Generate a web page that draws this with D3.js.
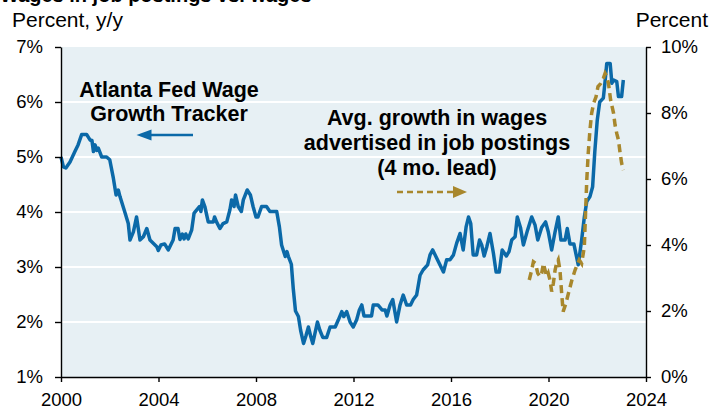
<!DOCTYPE html>
<html>
<head>
<meta charset="utf-8">
<script src="https://cdn.jsdelivr.net/npm/d3@7"></script>
<style>
  html, body { margin: 0; padding: 0; background: #fff; }
  svg { display: block; font-family: "Liberation Sans", Arial, sans-serif; }
</style>
</head>
<body>
<div id="chart"></div>
<script>
// Atlanta Fed Wage Growth Tracker, percent y/y (left axis) - [year, value]
const wageTracker = [
  [2000.00, 5.00], [2000.10, 4.82], [2000.20, 4.80], [2000.37, 4.91], [2000.57, 5.10],
  [2000.70, 5.22], [2000.85, 5.41], [2001.05, 5.41], [2001.19, 5.31], [2001.27, 5.30],
  [2001.33, 5.10], [2001.40, 5.22], [2001.47, 5.12], [2001.53, 5.16], [2001.67, 5.00],
  [2001.87, 5.00], [2002.00, 4.95], [2002.15, 4.61], [2002.26, 4.31], [2002.35, 4.40],
  [2002.42, 4.28], [2002.63, 3.98], [2002.76, 3.79], [2002.83, 3.49], [2002.97, 3.64],
  [2003.10, 3.91], [2003.24, 3.49], [2003.38, 3.55], [2003.52, 3.70], [2003.65, 3.49],
  [2003.93, 3.37], [2003.99, 3.30], [2004.10, 3.40], [2004.25, 3.42], [2004.40, 3.31],
  [2004.60, 3.49], [2004.68, 3.70], [2004.80, 3.70], [2004.88, 3.50], [2004.98, 3.60],
  [2005.05, 3.51], [2005.12, 3.60], [2005.22, 3.51], [2005.36, 3.67], [2005.46, 3.98],
  [2005.57, 4.04], [2005.68, 4.10], [2005.74, 4.01], [2005.80, 4.22], [2005.90, 4.10],
  [2006.04, 3.82], [2006.25, 3.82], [2006.30, 3.91], [2006.38, 3.82], [2006.52, 3.70],
  [2006.65, 3.79], [2006.80, 3.82], [2006.93, 4.04], [2007.00, 4.22], [2007.10, 4.10],
  [2007.16, 4.31], [2007.27, 4.10], [2007.40, 4.01], [2007.48, 4.22], [2007.64, 4.40],
  [2007.77, 4.31], [2007.88, 4.10], [2008.00, 3.91], [2008.08, 3.91], [2008.23, 4.10],
  [2008.43, 4.10], [2008.57, 4.01], [2008.85, 4.01], [2008.96, 3.73], [2009.05, 3.40],
  [2009.20, 3.19], [2009.27, 3.28], [2009.33, 3.19], [2009.45, 3.05], [2009.53, 2.60],
  [2009.62, 2.20], [2009.74, 2.10], [2009.83, 1.85], [2009.95, 1.61], [2010.05, 1.75],
  [2010.15, 1.91], [2010.25, 1.73], [2010.33, 1.61], [2010.52, 2.00], [2010.62, 1.85],
  [2010.74, 1.72], [2010.90, 1.72], [2011.04, 1.91], [2011.25, 1.91], [2011.38, 2.04],
  [2011.52, 2.19], [2011.60, 2.10], [2011.72, 2.19], [2011.86, 2.00], [2011.99, 1.91],
  [2012.13, 2.04], [2012.24, 2.22], [2012.34, 2.31], [2012.43, 2.11], [2012.74, 2.11],
  [2012.81, 2.31], [2013.00, 2.31], [2013.17, 2.22], [2013.30, 2.22], [2013.37, 2.11],
  [2013.50, 2.31], [2013.61, 2.41], [2013.77, 2.00], [2013.91, 2.31], [2014.04, 2.49],
  [2014.18, 2.31], [2014.34, 2.31], [2014.45, 2.41], [2014.59, 2.49], [2014.73, 2.85],
  [2014.86, 2.95], [2015.04, 3.04], [2015.14, 3.22], [2015.25, 3.31], [2015.35, 3.22],
  [2015.48, 3.10], [2015.69, 2.91], [2015.82, 3.13], [2015.96, 3.13], [2016.10, 3.22],
  [2016.23, 3.43], [2016.37, 3.61], [2016.50, 3.31], [2016.62, 3.73], [2016.72, 3.91],
  [2016.81, 3.79], [2016.91, 3.22], [2017.05, 3.22], [2017.17, 3.49], [2017.26, 3.40],
  [2017.36, 3.20], [2017.47, 3.37], [2017.60, 3.61], [2017.74, 3.25], [2017.85, 2.91],
  [2017.98, 2.91], [2018.10, 3.31], [2018.27, 3.20], [2018.38, 3.28], [2018.49, 3.49],
  [2018.63, 3.55], [2018.72, 3.91], [2018.85, 3.72], [2018.97, 3.40], [2019.14, 3.67],
  [2019.31, 3.91], [2019.45, 3.76], [2019.56, 3.49], [2019.72, 3.72], [2019.88, 3.82],
  [2019.99, 3.64], [2020.13, 3.31], [2020.27, 3.64], [2020.40, 3.91], [2020.51, 3.49],
  [2020.68, 3.49], [2020.77, 3.70], [2020.88, 3.42], [2021.04, 3.42], [2021.22, 3.04],
  [2021.36, 3.49], [2021.47, 3.91], [2021.57, 4.19], [2021.70, 4.28], [2021.81, 4.46],
  [2021.90, 5.10], [2022.00, 5.67], [2022.10, 6.00], [2022.25, 6.07], [2022.32, 6.37],
  [2022.39, 6.70], [2022.53, 6.70], [2022.60, 6.34], [2022.67, 6.40], [2022.80, 6.37],
  [2022.87, 6.10], [2023.00, 6.10], [2023.07, 6.40]
];

// Avg. growth in advertised wages, 4 mo. lead, percent (right axis)
const postedWages = [
  [2019.21, 2.94], [2019.31, 3.24], [2019.38, 3.49], [2019.47, 3.44], [2019.56, 3.14],
  [2019.66, 3.04], [2019.72, 3.14], [2019.79, 3.44], [2019.86, 3.24], [2019.93, 3.04],
  [2019.99, 3.14], [2020.06, 2.94], [2020.13, 2.59], [2020.20, 2.84], [2020.27, 3.24],
  [2020.33, 3.44], [2020.40, 3.55], [2020.47, 3.24], [2020.54, 2.54], [2020.60, 1.98],
  [2020.71, 2.22], [2020.82, 2.54], [2020.96, 2.94], [2021.09, 3.24], [2021.26, 3.55],
  [2021.36, 3.44], [2021.47, 3.95], [2021.52, 4.96], [2021.57, 5.97], [2021.63, 6.78],
  [2021.70, 7.48], [2021.77, 7.99], [2021.85, 8.29], [2021.95, 8.49], [2022.03, 8.80],
  [2022.15, 8.90], [2022.25, 9.05], [2022.32, 9.20], [2022.39, 9.10], [2022.46, 8.90],
  [2022.55, 8.39], [2022.67, 7.99], [2022.73, 7.64], [2022.80, 7.38], [2022.87, 7.18],
  [2022.94, 6.78], [2023.00, 6.48], [2023.07, 6.27]
];

const xTicks = [2000, 2004, 2008, 2012, 2016, 2020, 2024];
const leftTicks = [1, 2, 3, 4, 5, 6, 7];
const rightTicks = [0, 2, 4, 6, 8, 10];

const width = 723;
const height = 417;
const blue = '#0b69a8';
const gold = '#a8872c';

const svg = d3.select('#chart')
  .append('svg')
  .attr('width', width)
  .attr('height', height);

const plot = { left: 61, right: 646, top: 47, bottom: 377 };

const xScale = d3.scaleLinear().domain([2000, 2024]).range([plot.left, plot.right]);
const yLeft = d3.scaleLinear().domain([1, 7]).range([plot.bottom, plot.top]);
const yRight = d3.scaleLinear().domain([0, 10]).range([plot.bottom, plot.top]);

// title (cut off at the top in the source)
svg.append('text')
  .attr('x', 0)
  .attr('y', 2)
  .attr('font-size', 20)
  .attr('font-weight', 'bold')
  .text('Wages in job postings vs. wages');

svg.append('text')
  .attr('x', 12)
  .attr('y', 27)
  .attr('font-size', 21)
  .text('Percent, y/y');

svg.append('text')
  .attr('x', 708)
  .attr('y', 27)
  .attr('font-size', 21)
  .attr('text-anchor', 'end')
  .text('Percent');

// plot background
svg.append('rect')
  .attr('x', plot.left)
  .attr('y', plot.top)
  .attr('width', plot.right - plot.left)
  .attr('height', plot.bottom - plot.top)
  .attr('fill', '#e7f0f4');

// gridlines on left-axis ticks
svg.append('g')
  .selectAll('line')
  .data(leftTicks.slice(1, -1))
  .join('line')
  .attr('x1', plot.left)
  .attr('x2', plot.right)
  .attr('y1', (d) => yLeft(d))
  .attr('y2', (d) => yLeft(d))
  .attr('stroke', '#fff')
  .attr('stroke-width', 2);

// series
const lineLeft = d3.line().x((d) => xScale(d[0])).y((d) => yLeft(d[1]));
const lineRight = d3.line().x((d) => xScale(d[0])).y((d) => yRight(d[1]));

svg.append('path')
  .datum(wageTracker)
  .attr('d', lineLeft)
  .attr('fill', 'none')
  .attr('stroke', blue)
  .attr('stroke-width', 3.5)
  .attr('stroke-linejoin', 'round');

svg.append('path')
  .datum(postedWages)
  .attr('d', lineRight)
  .attr('fill', 'none')
  .attr('stroke', gold)
  .attr('stroke-width', 3.5)
  .attr('stroke-dasharray', '8,5');

// axes
function styleAxis(g) {
  g.selectAll('path, line').attr('stroke', '#000').attr('stroke-width', 1.4);
  g.selectAll('text')
    .attr('fill', '#000')
    .attr('font-size', 18.5)
    .attr('font-family', '"Liberation Sans", Arial, sans-serif');
}

svg.append('g')
  .attr('transform', `translate(${plot.left},0)`)
  .call(d3.axisLeft(yLeft).tickValues(leftTicks).tickSize(6).tickSizeOuter(0)
    .tickPadding(12).tickFormat((d) => d + '%'))
  .call(styleAxis);

svg.append('g')
  .attr('transform', `translate(${plot.right},0)`)
  .call(d3.axisRight(yRight).tickValues(rightTicks).tickSize(5).tickSizeOuter(0)
    .tickPadding(10).tickFormat((d) => d + '%'))
  .call(styleAxis);

svg.append('g')
  .attr('transform', `translate(0,${plot.bottom})`)
  .call(d3.axisBottom(xScale).tickValues(xTicks).tickSize(5).tickSizeOuter(0)
    .tickPadding(11).tickFormat(d3.format('d')))
  .call(styleAxis);

// annotations
const blueLabel = svg.append('text')
  .attr('font-size', 21.5)
  .attr('font-weight', 'bold')
  .attr('text-anchor', 'middle');
blueLabel.append('tspan').attr('x', 169).attr('y', 97).text('Atlanta Fed Wage');
blueLabel.append('tspan').attr('x', 169).attr('y', 120.5).text('Growth Tracker');

svg.append('line')
  .attr('x1', 149).attr('x2', 193)
  .attr('y1', 135).attr('y2', 135)
  .attr('stroke', blue).attr('stroke-width', 2.5);
svg.append('path')
  .attr('d', 'M136.5,135 L151.5,129.5 L151.5,140.5 Z')
  .attr('fill', blue);

const goldLabel = svg.append('text')
  .attr('font-size', 21.5)
  .attr('font-weight', 'bold')
  .attr('text-anchor', 'middle');
goldLabel.append('tspan').attr('x', 437).attr('y', 125).text('Avg. growth in wages');
goldLabel.append('tspan').attr('x', 437).attr('y', 150).text('advertised in job postings');
goldLabel.append('tspan').attr('x', 437).attr('y', 175).text('(4 mo. lead)');

svg.append('line')
  .attr('x1', 397).attr('x2', 455)
  .attr('y1', 192).attr('y2', 192)
  .attr('stroke', gold).attr('stroke-width', 2.5)
  .attr('stroke-dasharray', '6,4');
svg.append('path')
  .attr('d', 'M467,192 L453,186 L453,198 Z')
  .attr('fill', gold);
</script>
</body>
</html>
